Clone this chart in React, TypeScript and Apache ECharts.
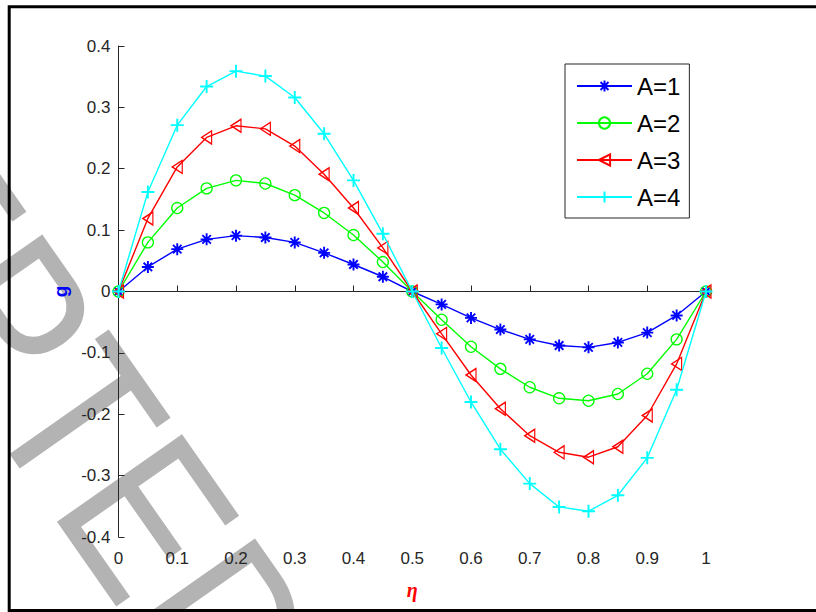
import React, { useEffect, useRef } from "react";
import * as echarts from "echarts";

// η sample points along the channel
const eta = [0, 0.05, 0.1, 0.15, 0.2, 0.25, 0.3, 0.35, 0.4, 0.45, 0.5, 0.55, 0.6, 0.65, 0.7, 0.75, 0.8, 0.85, 0.9, 0.95, 1];

// g(η) for each value of A
const gA1 = [0, 0.040, 0.069, 0.085, 0.091, 0.088, 0.080, 0.063, 0.044, 0.024, 0, -0.021, -0.043, -0.062, -0.078, -0.088, -0.091, -0.083, -0.067, -0.039, 0];
const gA2 = [0, 0.080, 0.136, 0.168, 0.181, 0.176, 0.157, 0.128, 0.092, 0.048, 0, -0.046, -0.090, -0.126, -0.156, -0.174, -0.178, -0.167, -0.134, -0.078, 0];
const gA3 = [0, 0.119, 0.203, 0.251, 0.270, 0.265, 0.237, 0.191, 0.136, 0.071, 0, -0.069, -0.136, -0.191, -0.235, -0.262, -0.270, -0.253, -0.202, -0.118, 0];
const gA4 = [0, 0.162, 0.271, 0.334, 0.359, 0.351, 0.316, 0.257, 0.181, 0.094, 0, -0.092, -0.180, -0.257, -0.313, -0.351, -0.358, -0.332, -0.271, -0.160, 0];

const seriesNames = ["A=1", "A=2", "A=3", "A=4"];
const seriesColors = ["#0000ff", "#00ff00", "#ff0000", "#00ffff"];

const AXIS_COLOR = "#262626";
const SANS = "'Liberation Sans', Arial, Helvetica, sans-serif";

// marker outlines
const ASTERISK = "path://M0,-10L0,10M-10,0L10,0M-7.07,-7.07L7.07,7.07M-7.07,7.07L7.07,-7.07";
const CIRCLE = "circle";
const LEFT_TRIANGLE = "path://M-10,0L10,-10L10,10Z";
const PLUS = "path://M0,-10L0,10M-10,0L10,0";

const markers = [ASTERISK, CIRCLE, LEFT_TRIANGLE, PLUS];
const markerSizes: (number | number[])[] = [12, 11, [10, 13], 13];
const markerStrokes = [1.9, 1.3, 1.3, 1.9];

export default function App() {
  const ref = useRef<HTMLDivElement>(null);

  useEffect(() => {
    if (!ref.current) return;
    const chart = echarts.init(ref.current, null, { renderer: "svg" });
    const allValues = [gA1, gA2, gA3, gA4];

    const rot = (-55 * Math.PI) / 180;

    chart.setOption({
      animation: false,
      backgroundColor: "#ffffff",
      grid: { left: 118.5, right: 110, top: 46, bottom: 75, containLabel: false },
      legend: {
        orient: "vertical",
        left: 565,
        top: 64,
        padding: [10, 9, 9, 11],
        itemWidth: 55,
        itemHeight: 14,
        itemGap: 13,
        borderColor: AXIS_COLOR,
        borderWidth: 1,
        backgroundColor: "#ffffff",
        textStyle: { fontSize: 24, color: "#000000", fontFamily: SANS },
        data: seriesNames,
        selectedMode: false,
      },
      xAxis: {
        type: "value",
        min: 0,
        max: 1,
        interval: 0.1,
        name: "η",
        nameLocation: "middle",
        nameGap: 43,
        nameTextStyle: {
          color: "#ff0000",
          fontSize: 20,
          fontWeight: "bold",
          fontStyle: "italic",
          fontFamily: "'Liberation Serif', 'Times New Roman', serif",
        },
        axisLine: { lineStyle: { color: AXIS_COLOR, width: 1 } },
        axisTick: { inside: true, length: 6, lineStyle: { color: AXIS_COLOR } },
        axisLabel: { color: AXIS_COLOR, fontSize: 17, fontFamily: SANS, margin: 13 },
        splitLine: { show: false },
      },
      yAxis: {
        type: "value",
        min: -0.4,
        max: 0.4,
        interval: 0.1,
        name: "g",
        nameLocation: "middle",
        nameGap: 42,
        nameTextStyle: { color: "#0000ff", fontSize: 19, fontWeight: "bold", fontFamily: SANS },
        axisLine: { lineStyle: { color: AXIS_COLOR, width: 1 } },
        axisTick: { inside: true, length: 6, lineStyle: { color: AXIS_COLOR } },
        axisLabel: { color: AXIS_COLOR, fontSize: 17, fontFamily: SANS, margin: 8 },
        splitLine: { show: false },
      },
      series: seriesNames.map((name, i) => ({
        name,
        type: "line",
        data: eta.map((x, k) => [x, allValues[i][k]]),
        symbol: markers[i],
        symbolSize: markerSizes[i],
        showAllSymbol: true,
        lineStyle: { color: seriesColors[i], width: 1.4 },
        itemStyle: { color: "rgba(255,255,255,0)", borderColor: seriesColors[i], borderWidth: markerStrokes[i] },
        emphasis: { disabled: true },
        z: 2 + i,
      })),
      graphic: [
        {
          type: "text",
          x: -333,
          y: -169,
          rotation: rot,
          scaleX: 0.86,
          scaleY: 1,
          z: -10,
          silent: true,
          style: {
            text: "ACCEPTED",
            fontSize: 222,
            fontFamily: SANS,
            fill: "#b3b3b3",
            align: "left",
            verticalAlign: "middle",
          },
        },
        {
          type: "rect",
          z: 100,
          silent: true,
          shape: { x: 9.2, y: 6.8, width: 900, height: 603.7 },
          style: { fill: "none", stroke: "#000000", lineWidth: 3 },
        },
      ],
    });

    return () => chart.dispose();
  }, []);

  return (
    <div
      ref={ref}
      style={{ position: "fixed", left: 0, top: 0, width: 816, height: 612 }}
    />
  );
}
